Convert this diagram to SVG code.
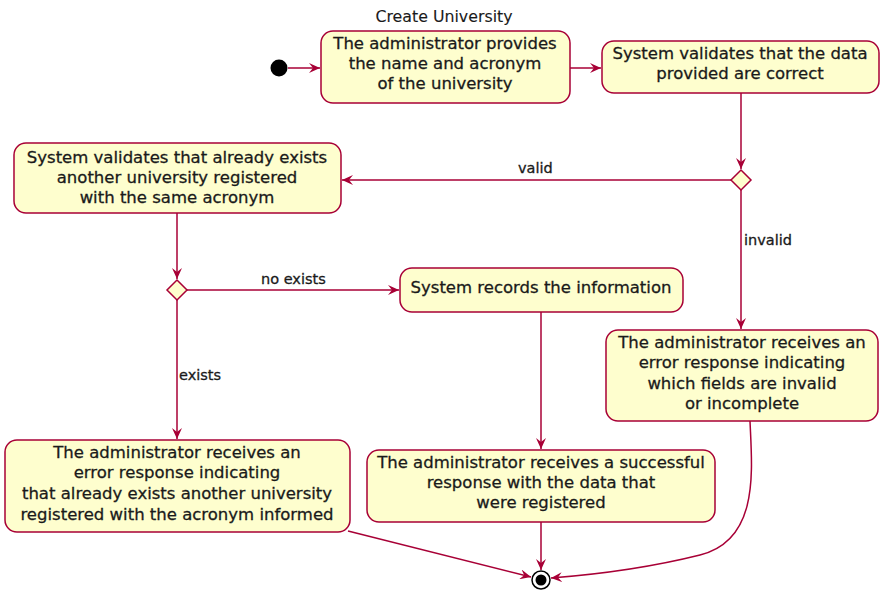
<svg xmlns="http://www.w3.org/2000/svg" width="881" height="592" viewBox="0 0 881 592">
<style>
.n{fill:#FEFECE;stroke:#A80036;stroke-width:1.5}
.t{font-family:"DejaVu Sans",sans-serif;font-size:16.5px;fill:#1a1a1a;stroke:#1a1a1a;stroke-width:0.3;text-anchor:middle}
.l{font-family:"DejaVu Sans",sans-serif;font-size:14.5px;fill:#1a1a1a;stroke:#1a1a1a;stroke-width:0.3}
.c{fill:none;stroke:#A80036;stroke-width:1.5}
</style>
<defs>
<marker id="a" viewBox="0 0 12 10" refX="11" refY="5" markerWidth="12" markerHeight="10" markerUnits="userSpaceOnUse" orient="auto">
<path d="M0,0 L11,5 L0,10 L4,5 Z" fill="#A80036"/>
</marker>
</defs>
<rect width="881" height="592" fill="#fff"/>
<text x="444" y="22" class="t" style="font-size:15.8px;stroke-width:0.1">Create University</text>
<g id="connectors">
<line class="c" x1="288" y1="68" x2="320" y2="68" marker-end="url(#a)"/>
<line class="c" x1="570" y1="68" x2="601" y2="68" marker-end="url(#a)"/>
<line class="c" x1="741" y1="93" x2="741" y2="169" marker-end="url(#a)"/>
<line class="c" x1="731" y1="180" x2="342" y2="180" marker-end="url(#a)"/>
<line class="c" x1="741" y1="190" x2="741" y2="329" marker-end="url(#a)"/>
<line class="c" x1="177" y1="213" x2="177" y2="279" marker-end="url(#a)"/>
<line class="c" x1="187" y1="290" x2="399" y2="290" marker-end="url(#a)"/>
<line class="c" x1="177" y1="300" x2="177" y2="439" marker-end="url(#a)"/>
<line class="c" x1="541" y1="312" x2="541" y2="449" marker-end="url(#a)"/>
<line class="c" x1="541" y1="522" x2="541" y2="570" marker-end="url(#a)"/>
<line class="c" x1="348" y1="531" x2="531" y2="577" marker-end="url(#a)"/>
<path class="c" d="M750,421 C752,470 760,540 700,555 C640,570 590,575 551,578" marker-end="url(#a)"/>
<text x="518" y="173" class="l">valid</text>
<text x="744" y="245" class="l">invalid</text>
<text x="261" y="284" class="l">no exists</text>
<text x="179" y="380" class="l">exists</text>
</g>
<g id="start"><circle cx="279" cy="68" r="8.5" fill="#000"/></g>
<g id="n1">
<rect class="n" x="321" y="31" width="249" height="72" rx="12"/>
<text class="t" x="445" y="49">The administrator provides</text>
<text class="t" x="445" y="69">the name and acronym</text>
<text class="t" x="445" y="89">of the university</text>
</g>
<g id="n2">
<rect class="n" x="602" y="41" width="277" height="52" rx="12"/>
<text class="t" x="740" y="59">System validates that the data</text>
<text class="t" x="740" y="79">provided are correct</text>
</g>
<g id="d1"><path class="n" d="M741,170 L751,180 L741,190 L731,180 Z"/></g>
<g id="n3">
<rect class="n" x="14" y="143" width="327" height="70" rx="12"/>
<text class="t" x="177" y="163">System validates that already exists</text>
<text class="t" x="177" y="183">another university registered</text>
<text class="t" x="177" y="203">with the same acronym</text>
</g>
<g id="d2"><path class="n" d="M177,280 L187,290 L177,300 L167,290 Z"/></g>
<g id="n4">
<rect class="n" x="400" y="268" width="283" height="44" rx="12"/>
<text class="t" x="541" y="293">System records the information</text>
</g>
<g id="n5">
<rect class="n" x="606" y="330" width="272" height="91" rx="12"/>
<text class="t" x="742" y="348">The administrator receives an</text>
<text class="t" x="742" y="368">error response indicating</text>
<text class="t" x="742" y="389">which fields are invalid</text>
<text class="t" x="742" y="409">or incomplete</text>
</g>
<g id="n6">
<rect class="n" x="5" y="440" width="345" height="92" rx="12"/>
<text class="t" x="177" y="458">The administrator receives an</text>
<text class="t" x="177" y="478">error response indicating</text>
<text class="t" x="177" y="499">that already exists another university</text>
<text class="t" x="177" y="520">registered with the acronym informed</text>
</g>
<g id="n7">
<rect class="n" x="367" y="450" width="348" height="72" rx="12"/>
<text class="t" x="541" y="468">The administrator receives a successful</text>
<text class="t" x="541" y="488">response with the data that</text>
<text class="t" x="541" y="508">were registered</text>
</g>
<g id="end">
<circle cx="541" cy="580" r="9" fill="#fff" stroke="#000" stroke-width="1.5"/>
<circle cx="541" cy="580" r="5.5" fill="#000"/>
</g>
</svg>
